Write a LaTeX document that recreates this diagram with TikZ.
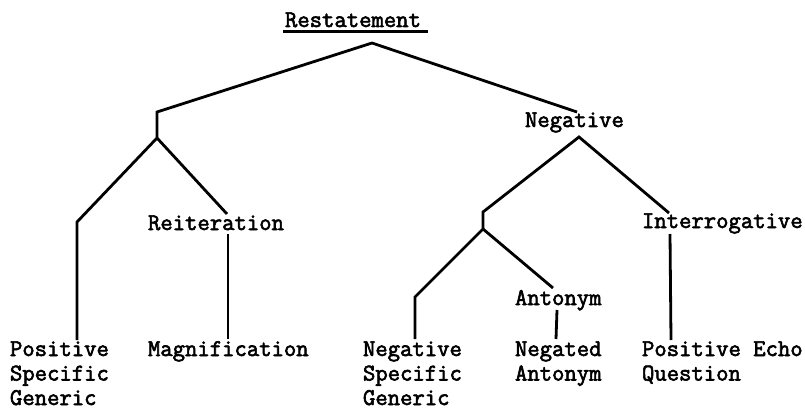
\documentclass[tikz,border=0pt]{standalone}
\usepackage{fontspec}
\setmonofont[FakeBold=2.5]{Latin Modern Mono}
\begin{document}
\begin{tikzpicture}[x=1pt,y=-1pt,
  lbl/.style={anchor=base west,inner sep=0pt,outer sep=0pt,font=\fontsize{24}{24.5}\selectfont\ttfamily,align=left},
  edge/.style={line width=2.8pt,line join=miter,line cap=butt}]
\useasboundingbox (0,0) rectangle (805,409);
% labels (multi-line nodes are placed by the baseline of their last line)
\node[lbl] (rest) at (285,27) {Restatement};
\node[lbl] (neg) at (525,127) {Negative};
\node[lbl] (reit) at (148,230) {Reiteration};
\node[lbl] (inter) at (642,228) {Interrogative};
\node[lbl] (ant) at (515,305) {Antonym};
\node[lbl] (psg) at (10,405) {Positive\\Specific\\Generic};
\node[lbl] (mag) at (148,356) {Magnification};
\node[lbl] (nsg) at (363,405) {Negative\\Specific\\Generic};
\node[lbl] (nant) at (515,380.5) {Negated\\Antonym};
\node[lbl] (peq) at (642,380.5) {Positive Echo\\Question};
% underline
\coordinate (ul1) at (283,31.5);
\coordinate (ul2) at (428,31.5);
\draw[line width=3pt] (ul1) -- (ul2);
% junctions
\coordinate (apex) at (372,43);
\coordinate (pa) at (157,112);
\coordinate (pb) at (157,138);
\coordinate (pl) at (77,222);
\coordinate (pld) at (77,340);
\coordinate (reitT) at (227,214);
\coordinate (reitB) at (228,234);
\coordinate (magT) at (228,339);
\coordinate (negT) at (577,112);
\coordinate (negB) at (579,137);
\coordinate (na) at (483,212);
\coordinate (nb) at (483,229);
\coordinate (nl) at (415,297);
\coordinate (nld) at (415,339);
\coordinate (antT) at (553,288);
\coordinate (antB) at (557,310);
\coordinate (nantT) at (556,339);
\coordinate (intT) at (669,213);
\coordinate (intB) at (670,234);
\coordinate (peqT) at (671,340);
% edges
\draw[edge] (pld) -- (pl) -- (pb) -- (pa) -- (apex) -- (negT);
\draw[edge] (pb) -- (reitT);
\draw[edge] (reitB) -- (magT);
\draw[edge] (nld) -- (nl) -- (nb) -- (na) -- (negB) -- (intT);
\draw[edge] (nb) -- (antT);
\draw[edge] (antB) -- (nantT);
\draw[edge] (intB) -- (peqT);
\end{tikzpicture}
\end{document}
